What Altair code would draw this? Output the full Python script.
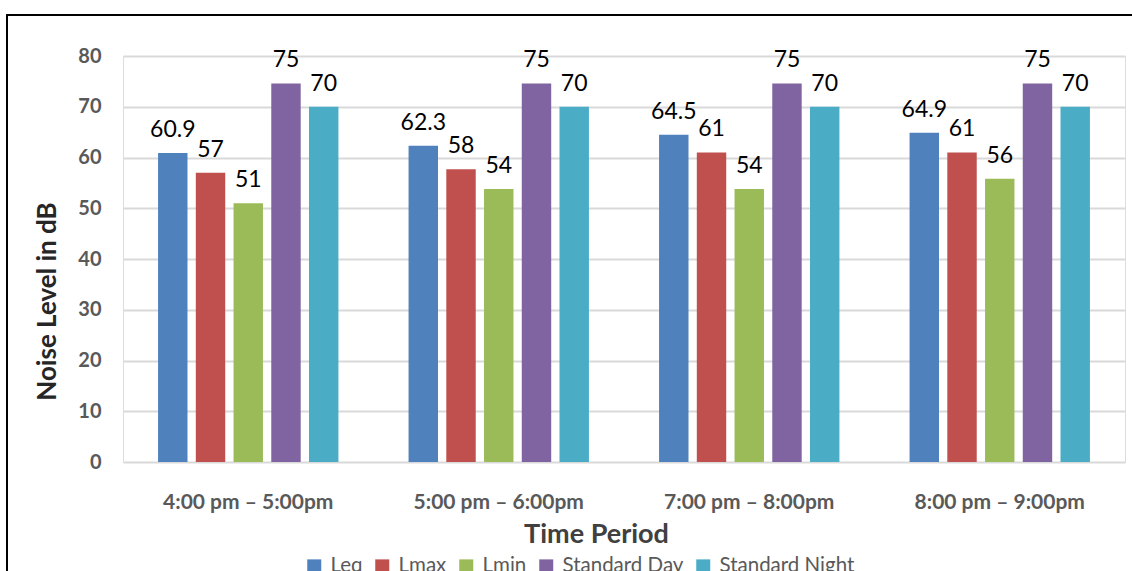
import altair as alt
import pandas as pd

periods = ["4:00 pm \u2013 5:00pm", "5:00 pm \u2013 6:00pm", "7:00 pm \u2013 8:00pm", "8:00 pm \u2013 9:00pm"]
series = ["Leq", "Lmax", "Lmin", "Standard Day", "Standard Night"]
colors = ["#4F81BD", "#C0504D", "#9BBB59", "#8064A2", "#4BACC6"]

leq = [60.9, 62.3, 64.5, 64.9]
lmax = [57, 57.7, 61, 61]
lmin = [51, 53.8, 53.8, 55.8]
std_day = [74.6, 74.6, 74.6, 74.6]
std_night = [70, 70, 70, 70]

leq_lbl = ["60.9", "62.3", "64.5", "64.9"]
lmax_lbl = ["57", "58", "61", "61"]
lmin_lbl = ["51", "54", "54", "56"]
day_lbl = ["75", "75", "75", "75"]
night_lbl = ["70", "70", "70", "70"]

rows = []
for s, vals, lbls in zip(series, [leq, lmax, lmin, std_day, std_night],
                         [leq_lbl, lmax_lbl, lmin_lbl, day_lbl, night_lbl]):
    for p, v, l in zip(periods, vals, lbls):
        rows.append({"period": p, "series": s, "value": v, "label": l})
df = pd.DataFrame(rows)

FONT = "Lato"

x = alt.X("period:N", sort=periods,
          scale=alt.Scale(paddingInner=0.28, paddingOuter=0.14),
          axis=alt.Axis(title="Time Period", labelAngle=0, labelFontSize=21,
                        labelFontWeight="bold", labelColor="#595959",
                        labelPadding=29, ticks=False, domain=False,
                        titleFontSize=27, titleFontWeight="bold",
                        titleColor="#404040", titlePadding=9,
                        titleX=473, titleAlign="center",
                        labelFont=FONT, titleFont=FONT))
xo = alt.XOffset("series:N", sort=series,
                 scale=alt.Scale(paddingInner=0.22, paddingOuter=0))
y = alt.Y("value:Q", scale=alt.Scale(domain=[0, 80]),
          axis=alt.Axis(values=list(range(0, 81, 10)), title="Noise Level in dB",
                        labelFontSize=20, labelFontWeight="bold",
                        labelColor="#595959", labelPadding=22, ticks=False,
                        domain=False, gridColor="#d9d9d9", gridWidth=2,
                        titleFontSize=26, titleFontWeight="bold",
                        titleColor="#262626", titleX=-76, titleY=245,
                        titleAngle=-90, titleAlign="center",
                        titleBaseline="middle", labelFont=FONT, titleFont=FONT))

color = alt.Color("series:N", sort=series,
                  scale=alt.Scale(domain=series, range=colors),
                  legend=alt.Legend(title=None, orient="none", legendX=181,
                                    legendY=500, direction="horizontal",
                                    symbolType="square", symbolSize=196,
                                    symbolStrokeWidth=0, labelFontSize=20.5,
                                    labelColor="#595959", labelFont=FONT,
                                    columnPadding=9, labelOffset=6, padding=0))

bars = alt.Chart(df).mark_bar().encode(x=x, xOffset=xo, y=y, color=color)
labels = alt.Chart(df).mark_text(fontSize=23, font=FONT, color="#000000",
                                 baseline="alphabetic", dy=-16).encode(
    x=alt.X("period:N", sort=periods), xOffset=alt.XOffset("series:N", sort=series),
    y="value:Q", text="label:N")

border = alt.Chart(pd.DataFrame({"a": [0]})).mark_rect(
    filled=False, stroke="black", strokeWidth=2).encode(
    x=alt.value(-116), x2=alt.value(1030), y=alt.value(-41), y2=alt.value(580))

chart = alt.layer(bars, labels, border).properties(
    width=1002, height=406,
    autosize=alt.AutoSizeParams(type="none"),
    padding={"left": 123, "top": 56, "right": 7, "bottom": 109},
).configure_view(stroke=None).configure(background="white")

chart.save("out.html", embed_options={"renderer": "svg", "actions": False})
